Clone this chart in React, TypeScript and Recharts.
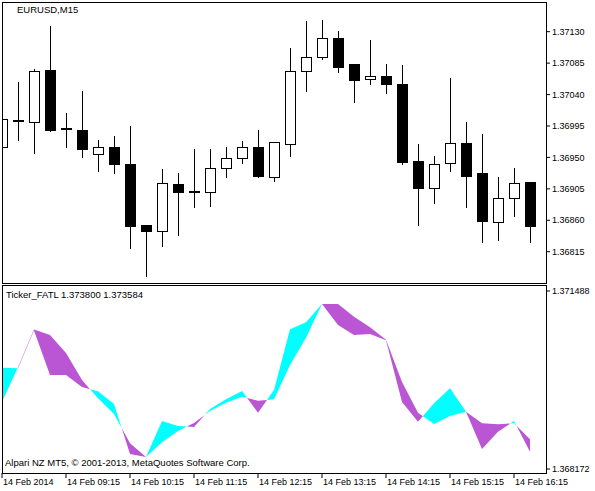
import React from 'react';
import { ComposedChart, Bar, Area, XAxis, YAxis } from 'recharts';

const font = "'Liberation Sans', Arial, sans-serif";

// EURUSD M15 candles, 14 Feb 2014 from 08:15
const opens = [1.369649, 1.370036, 1.370007, 1.370752, 1.369921, 1.369893, 1.369549, 1.369649, 1.369406, 1.368532, 1.368447, 1.36912, 1.369019, 1.369005, 1.369349, 1.369492, 1.369649, 1.36922, 1.369692, 1.370737, 1.370938, 1.37121, 1.370838, 1.370623, 1.370666, 1.370551, 1.369449, 1.369062, 1.36942, 1.369707, 1.369277, 1.368575, 1.368919, 1.369148];
const highs = [1.37005, 1.37058, 1.370766, 1.371382, 1.370136, 1.370451, 1.36975, 1.369807, 1.36995, 1.368532, 1.369334, 1.369277, 1.369621, 1.369621, 1.369649, 1.369735, 1.369893, 1.369721, 1.371067, 1.371453, 1.371468, 1.37131, 1.370838, 1.371181, 1.370838, 1.370823, 1.369692, 1.36952, 1.370637, 1.370007, 1.369835, 1.36922, 1.369349, 1.369148];
const lows = [1.369649, 1.36975, 1.369563, 1.369878, 1.369649, 1.369506, 1.369306, 1.369277, 1.368203, 1.367802, 1.368232, 1.368389, 1.36879, 1.368805, 1.36922, 1.36942, 1.36922, 1.369162, 1.36952, 1.370451, 1.370909, 1.370723, 1.370294, 1.370551, 1.370422, 1.369406, 1.368532, 1.368847, 1.369306, 1.36879, 1.368289, 1.368318, 1.368661, 1.368289];
const closes = [1.37005, 1.370022, 1.370737, 1.369893, 1.369907, 1.369621, 1.369649, 1.369406, 1.368518, 1.368447, 1.369134, 1.369005, 1.369005, 1.369349, 1.369492, 1.369649, 1.369234, 1.369721, 1.370737, 1.370938, 1.37121, 1.370795, 1.370609, 1.370666, 1.370551, 1.369435, 1.369062, 1.369406, 1.369707, 1.369234, 1.36859, 1.368919, 1.369134, 1.368518];

// the two indicator lines (cyan where ticker is above fatl, orchid otherwise)
const ticker = [1.370059, 1.370048, 1.370752, 1.369923, 1.369923, 1.3697, 1.36962, 1.369383, 1.368451, 1.368396, 1.369066, 1.368973, 1.368954, 1.36929, 1.36947, 1.369625, 1.369221, 1.369644, 1.370775, 1.370905, 1.371246, 1.370855, 1.370668, 1.370687, 1.37057, 1.36942, 1.369053, 1.369396, 1.369675, 1.369239, 1.368545, 1.368867, 1.369066, 1.368494];
const fatl = [1.369426, 1.370067, 1.370771, 1.370668, 1.370333, 1.36983, 1.369489, 1.369198, 1.368651, 1.368396, 1.368669, 1.36888, 1.369029, 1.369253, 1.369407, 1.369519, 1.369444, 1.36947, 1.370109, 1.370618, 1.371246, 1.371246, 1.371009, 1.370812, 1.370581, 1.369793, 1.369221, 1.36901, 1.369159, 1.369239, 1.369023, 1.369005, 1.369023, 1.368725];

const priceTicks = [1.36815, 1.3686, 1.36905, 1.3695, 1.36995, 1.3704, 1.37085, 1.3713];
const indTicks = [1.368172, 1.371488];
const timeTicks = [0, 4, 8, 12, 16, 20, 24, 28, 32];
const timeLabels = ['14 Feb 2014', '14 Feb 09:15', '14 Feb 10:15', '14 Feb 11:15', '14 Feb 12:15', '14 Feb 13:15', '14 Feb 14:15', '14 Feb 15:15', '14 Feb 16:15'];

const candles = opens.map((o, i) => ({ i, o, h: highs[i], l: lows[i], c: closes[i] }));

// fill points; crossings are added so each colour ends where the lines meet
const cloud: any[] = [];
ticker.forEach((a, i) => {
  const b = fatl[i];
  if (i > 0) {
    const a0 = ticker[i - 1];
    const d0 = a0 - fatl[i - 1];
    const d1 = a - b;
    if ((d0 > 0 && d1 < 0) || (d0 < 0 && d1 > 0)) {
      const t = d0 / (d0 - d1);
      const v = a0 + t * (a - a0);
      cloud.push({ x: i - 1 + t, up: [v, v], down: [v, v] });
    }
  }
  cloud.push({ x: i, up: a > b ? [b, a] : [a, a], down: a < b ? [a, b] : [a, a] });
});

const Candle = (props: any) => {
  const { x, y, width, height, payload } = props;
  if (x == null || !payload) return null;
  const cx = Math.round(x + width / 2);
  const top = Math.min(y, y + height);
  const bottom = Math.max(y, y + height);
  const span = payload.h - payload.l;
  const toY = (v: number) => (span === 0 ? top : top + ((payload.h - v) / span) * (bottom - top));
  const yo = toY(payload.o);
  const yc = toY(payload.c);
  const bodyTop = Math.round(Math.min(yo, yc));
  const bodyBottom = Math.max(Math.round(Math.max(yo, yc)), bodyTop + 1);
  const bull = payload.c > payload.o;
  return (
    <g shapeRendering="crispEdges">
      <line x1={cx + 0.5} x2={cx + 0.5} y1={Math.round(top)} y2={Math.round(bottom) + 1} stroke="#000" />
      <rect x={cx - 4.5} y={bodyTop + 0.5} width={10} height={bodyBottom - bodyTop} fill={bull ? '#fff' : '#000'} stroke="#000" />
    </g>
  );
};

const TimeTick = (props: any) => {
  const { x, y, payload } = props;
  return (
    <text x={x + 1} y={y} dy="0.71em" fontSize={9} fontFamily={font} fill="#000" textAnchor="start">
      {timeLabels[timeTicks.indexOf(payload.value)]}
    </text>
  );
};

const label = (left: number, top: number): React.CSSProperties => ({
  position: 'absolute', left, top, fontSize: 9.5, lineHeight: '10px', fontFamily: font, color: '#000', whiteSpace: 'nowrap',
});

export default function App() {
  return (
    <div style={{ position: 'absolute', left: 0, top: 0, width: 595, height: 491, background: '#fff', overflow: 'hidden' }}>
      <div style={{ position: 'absolute', left: 0, top: 0 }}>
        <ComposedChart width={595} height={285} data={candles} margin={{ top: 2, right: 0, bottom: 2, left: 2 }}>
          <XAxis type="number" dataKey="i" domain={[0, 34]} allowDataOverflow hide />
          <YAxis
            orientation="right"
            type="number"
            domain={[1.367702, 1.371725]}
            allowDataOverflow
            ticks={priceTicks}
            interval={0}
            width={49}
            tickSize={4}
            tickMargin={2}
            axisLine={false}
            tickLine={{ stroke: '#000' }}
            tick={{ fontSize: 9, fill: '#000', fontFamily: font }}
            tickFormatter={(v: number) => v.toFixed(5)}
          />
          <Bar dataKey={(d: any) => [d.l, d.h]} barSize={11} shape={<Candle />} isAnimationActive={false} />
        </ComposedChart>
      </div>
      <div style={{ position: 'absolute', left: 0, top: 285 }}>
        <ComposedChart width={595} height={206} data={cloud} margin={{ top: 1, right: 0, bottom: 0, left: 2 }}>
          <XAxis
            type="number"
            dataKey="x"
            domain={[0, 34]}
            allowDataOverflow
            ticks={timeTicks}
            interval={0}
            height={18}
            tickSize={5}
            tickMargin={1}
            axisLine={false}
            tickLine={{ stroke: '#000' }}
            tick={<TimeTick />}
          />
          <YAxis
            orientation="right"
            type="number"
            domain={[1.368098, 1.371581]}
            allowDataOverflow
            ticks={indTicks}
            interval={0}
            width={49}
            tickSize={4}
            tickMargin={2}
            axisLine={false}
            tickLine={{ stroke: '#000' }}
            tick={{ fontSize: 9, fill: '#000', fontFamily: font }}
            tickFormatter={(v: number) => v.toFixed(6)}
          />
          <Area type="linear" dataKey="up" stroke="none" fill="#00ffff" fillOpacity={1} dot={false} activeDot={false} isAnimationActive={false} />
          <Area type="linear" dataKey="down" stroke="none" fill="#ba55d3" fillOpacity={1} dot={false} activeDot={false} isAnimationActive={false} />
        </ComposedChart>
      </div>
      <div style={{ position: 'absolute', left: 2, top: 2, width: 545, height: 282, border: '1px solid #000', boxSizing: 'border-box', pointerEvents: 'none' }} />
      <div style={{ position: 'absolute', left: 2, top: 285, width: 545, height: 189, border: '1px solid #000', boxSizing: 'border-box', pointerEvents: 'none' }} />
      <div style={label(17, 5)}>EURUSD,M15</div>
      <div style={label(6, 290)}>Ticker_FATL 1.373800 1.373584</div>
      <div style={label(5, 458)}>Alpari NZ MT5, © 2001-2013, MetaQuotes Software Corp.</div>
    </div>
  );
}
